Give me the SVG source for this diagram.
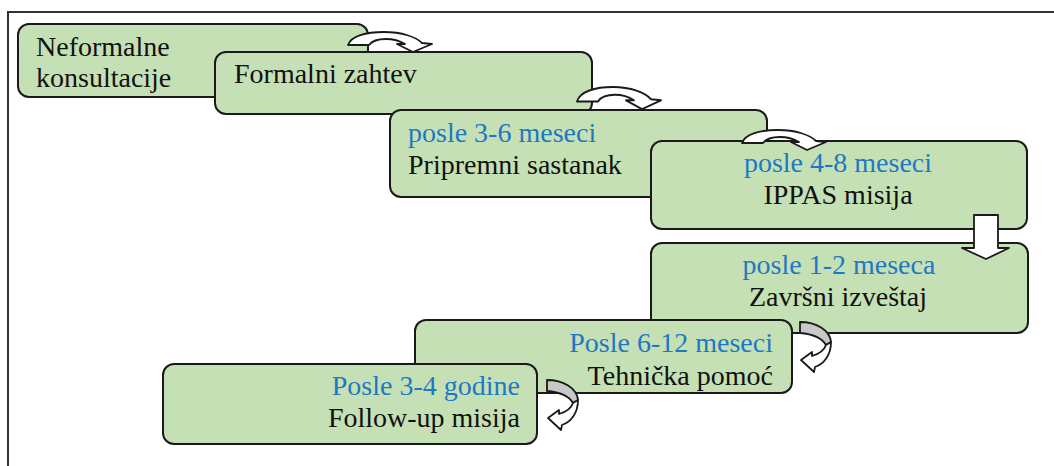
<svg xmlns="http://www.w3.org/2000/svg" xmlns:xlink="http://www.w3.org/1999/xlink" width="1054" height="466" viewBox="0 0 1054 466">
<style>
.box{fill:#c5e0b4;stroke:#1a1a1a;stroke-width:2}
.t{font-family:"Liberation Serif","Times New Roman",serif;font-size:28px;fill:#111}
.b{fill:#1e78c3}
.arr{fill:#fff;stroke:#1a1a1a;stroke-width:1.8;stroke-linejoin:round}
.back{fill:#c8c8c8;stroke:#1a1a1a;stroke-width:1.8;stroke-linejoin:round}
</style>
<defs>
<path id="curveDown" d="M0,14 C3,5 18,1 36,1 C54,1 68,6 74,12 L84,13 L65,21 L49,13 L57,13 C52,10 45,8 38,8 C30,8 24,10 21,14 Z"/>
<g id="curveLeft">
<path class="back" d="M0,0 C16,0 30,8 31,20 L26,23 C22,16 12,12 0,11 Z"/>
<path class="arr" d="M31,20 C31,33 24,42 15,45 L14,50 L1,38 L12,30 L12,34 C19,32 24,29 26,23 Z"/>
</g>
</defs>
<rect width="1054" height="466" fill="#fff"/>
<path d="M8,466 V12 H1054" fill="none" stroke="#333" stroke-width="2"/>

<g id="n1"><rect class="box" x="18" y="24" width="350" height="73" rx="11"/>
<text class="t" x="36" y="56">Neformalne</text><text class="t" x="36" y="87">konsultacije</text></g>
<g id="n2"><rect class="box" x="215" y="52" width="377" height="62" rx="11"/>
<text class="t" x="234" y="83">Formalni zahtev</text></g>
<g id="n3"><rect class="box" x="390" y="110" width="377" height="87" rx="11"/>
<text class="t b" x="408" y="142">posle 3-6 meseci</text><text class="t" x="408" y="174">Pripremni sastanak</text></g>
<g id="n4"><rect class="box" x="651" y="141" width="376" height="88" rx="11"/>
<text class="t b" x="838" y="172" text-anchor="middle">posle 4-8 meseci</text><text class="t" x="838" y="204" text-anchor="middle">IPPAS misija</text></g>
<g id="n5"><rect class="box" x="651" y="243" width="377" height="90" rx="11"/>
<text class="t b" x="839" y="274" text-anchor="middle">posle 1-2 meseca</text><text class="t" x="838" y="306" text-anchor="middle">Završni izveštaj</text></g>
<g id="n6"><rect class="box" x="415" y="320" width="377" height="73" rx="11"/>
<text class="t b" x="773" y="352" text-anchor="end">Posle 6-12 meseci</text><text class="t" x="773" y="385" text-anchor="end">Tehnička pomoć</text></g>
<g id="n7"><rect class="box" x="163" y="364" width="374" height="80" rx="11"/>
<text class="t b" x="520" y="395" text-anchor="end">Posle 3-4 godine</text><text class="t" x="520" y="427" text-anchor="end">Follow-up misija</text></g>

<g id="connectors">
<use xlink:href="#curveDown" class="arr" transform="translate(348,31)"/>
<use xlink:href="#curveDown" class="arr" transform="translate(577,86) scale(1,1.1)"/>
<use xlink:href="#curveDown" class="arr" transform="translate(742,129)"/>
<path class="arr" d="M974,215 H998 V248 H1009 L986,259 L962,248 H974 Z"/>
<use xlink:href="#curveLeft" transform="translate(800,322)"/>
<use xlink:href="#curveLeft" transform="translate(547,380)"/>
</g>
</svg>
